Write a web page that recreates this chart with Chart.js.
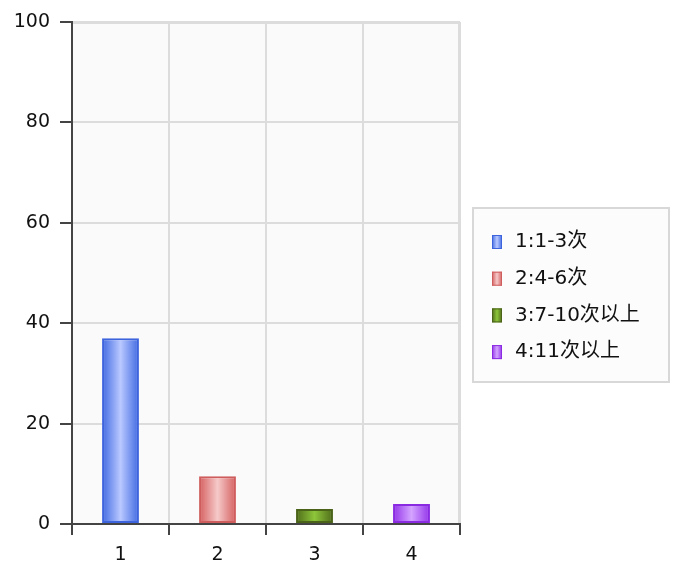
<!DOCTYPE html>
<html>
<head>
<meta charset="utf-8">
<script src="https://cdn.jsdelivr.net/npm/chart.js@4/dist/chart.umd.min.js"></script>
<style>
html,body{margin:0;padding:0;background:#fff;}
#wrap{width:675px;height:565px;}
</style>
</head>
<body>
<div id="wrap"><canvas id="c" width="675" height="565"></canvas></div>
<script>
const categories = ['1', '2', '3', '4'];
const seriesLabels = ['1:1-3次', '2:4-6次', '3:7-10次以上', '4:11次以上'];
const values = [37, 9.5, 3, 4];
const yTicks = [0, 20, 40, 60, 80, 100];

const edgeColors = ['#4169e1', '#d45f5f', '#4f6b1a', '#9333ea'];
const centerColors = ['#b9c9ff', '#f6c9c9', '#8dc63a', '#d4a4ff'];
const borderColors = ['#3d63dd', '#cf5d5d', '#4a6318', '#8a2be2'];

const FONT = '"DejaVu Sans", "Noto Sans CJK SC", sans-serif';

const plotBg = {
  id: 'plotBg',
  beforeDraw(chart) {
    const {ctx, chartArea: a} = chart;
    ctx.save();
    ctx.fillStyle = '#fafafa';
    ctx.fillRect(a.left, a.top, a.right - a.left, a.bottom - a.top);
    ctx.strokeStyle = '#dcdcdc';
    ctx.lineWidth = 2;
    ctx.beginPath();
    ctx.moveTo(a.left, a.top + 1);
    ctx.lineTo(a.right - 1, a.top + 1);
    ctx.lineTo(a.right - 1, a.bottom);
    ctx.stroke();
    ctx.restore();
  },
  beforeDatasetsDraw(chart) {
    const ctx = chart.ctx;
    const meta = chart.getDatasetMeta(0);
    meta.data.forEach((el, i) => {
      const x0 = el.x - el.width / 2, x1 = el.x + el.width / 2;
      const g = ctx.createLinearGradient(x0, 0, x1, 0);
      g.addColorStop(0, edgeColors[i]);
      g.addColorStop(0.5, centerColors[i]);
      g.addColorStop(1, edgeColors[i]);
      el.options.backgroundColor = g;
    });
  }
};

const boxLegend = {
  id: 'boxLegend',
  afterDraw(chart) {
    const ctx = chart.ctx;
    const bx = 473, by = 208, bw = 196, bh = 174;
    ctx.save();
    ctx.fillStyle = '#fcfcfc';
    ctx.fillRect(bx, by, bw, bh);
    ctx.strokeStyle = '#d8d8d8';
    ctx.lineWidth = 2;
    ctx.strokeRect(bx, by, bw, bh);
    ctx.font = '20px ' + FONT;
    ctx.textBaseline = 'middle';
    ctx.textAlign = 'left';
    seriesLabels.forEach((lab, i) => {
      const cy = 242 + i * 36.7;
      const g = ctx.createLinearGradient(492, 0, 502, 0);
      g.addColorStop(0, edgeColors[i]);
      g.addColorStop(0.5, centerColors[i]);
      g.addColorStop(1, edgeColors[i]);
      ctx.fillStyle = g;
      ctx.fillRect(492, cy - 7, 10, 14);
      ctx.strokeStyle = borderColors[i];
      ctx.lineWidth = 1;
      ctx.strokeRect(492.5, cy - 6.5, 9, 13);
      ctx.fillStyle = '#111';
      ctx.fillText(lab, 515, cy);
    });
    ctx.restore();
  }
};

new Chart(document.getElementById('c'), {
  type: 'bar',
  data: {
    labels: categories,
    datasets: [{
      data: values,
      backgroundColor: edgeColors,
      borderColor: borderColors,
      borderWidth: 2,
      borderSkipped: false,
      categoryPercentage: 1,
      barPercentage: 0.38
    }]
  },
  options: {
    responsive: false,
    animation: false,
    devicePixelRatio: 1,
    layout: {padding: {left: 0, top: 22, right: 215, bottom: 0}},
    plugins: {legend: {display: false}, tooltip: {enabled: false}},
    scales: {
      x: {
        grid: {color: '#dcdcdc', lineWidth: 2, tickColor: '#444', tickLength: 11, offset: true},
        border: {color: '#444', width: 2},
        ticks: {color: '#111', font: {family: FONT, size: 19}, padding: 9},
        afterFit(s) { s.height = 41; }
      },
      y: {
        min: 0, max: 100,
        afterBuildTicks(s) { s.ticks = yTicks.map(v => ({value: v})); },
        grid: {color: '#dcdcdc', lineWidth: 2, tickColor: '#444', tickLength: 12},
        border: {color: '#444', width: 2},
        ticks: {color: '#111', font: {family: FONT, size: 19}, padding: 10},
        afterFit(s) { s.width = 72; }
      }
    }
  },
  plugins: [plotBg, boxLegend]
});
</script>
</body>
</html>
